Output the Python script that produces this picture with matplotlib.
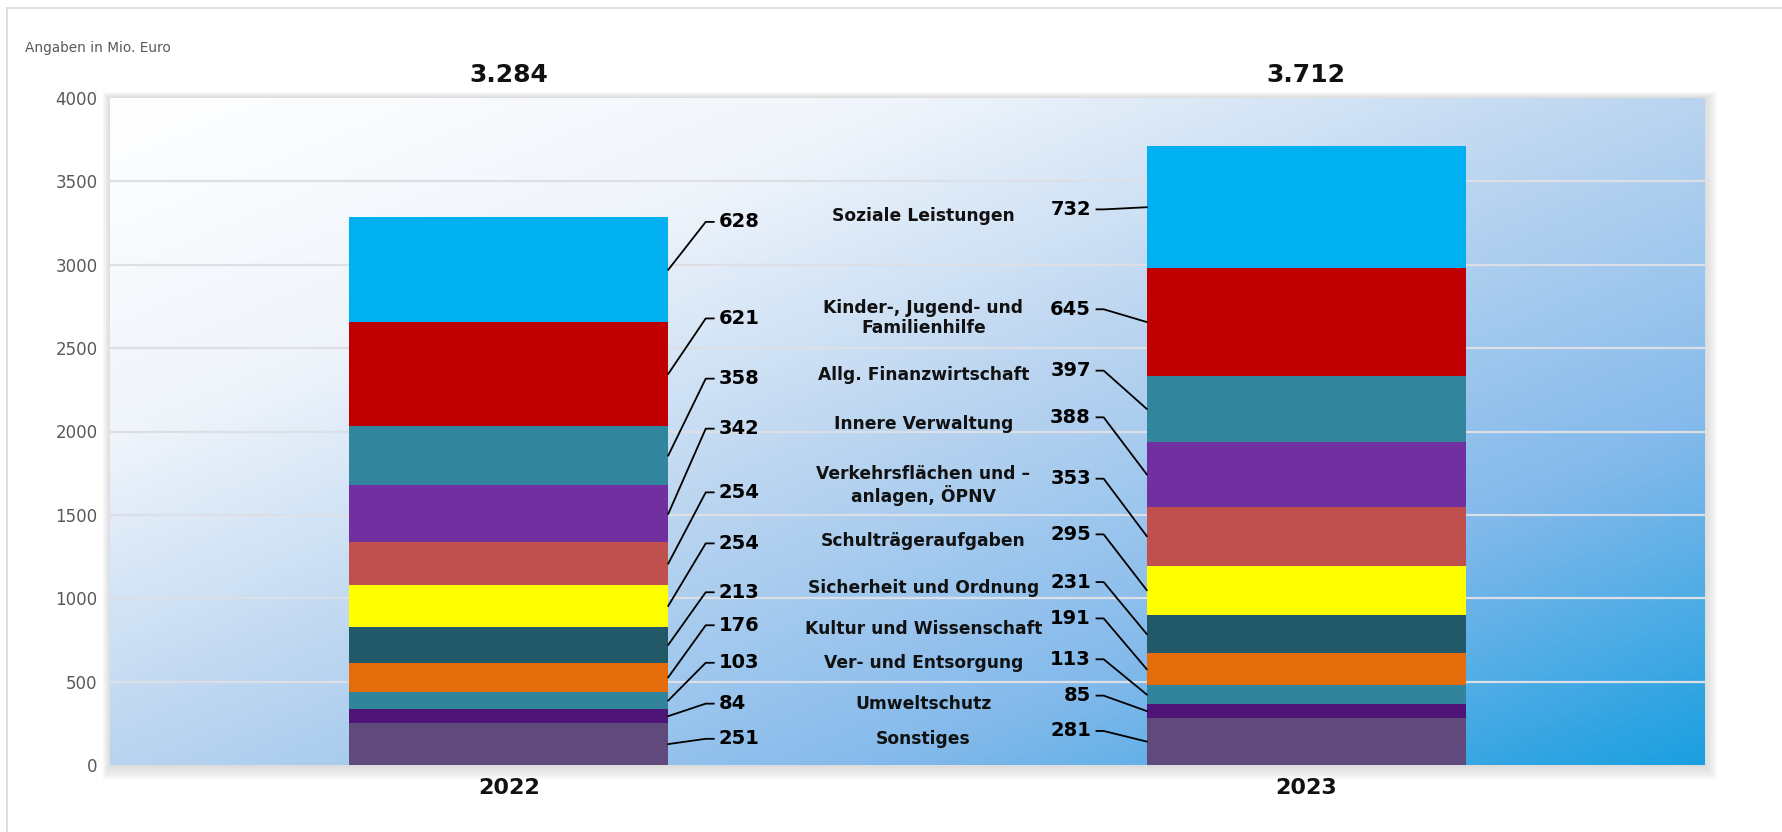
import numpy as np
import matplotlib
matplotlib.use("Agg")
import matplotlib.pyplot as plt
from matplotlib.patches import FancyBboxPatch
from matplotlib.lines import Line2D

# ============================================================
# DATA
# ============================================================

years = ["2022", "2023"]
totals = [3284, 3712]

categories = [
    "Sonstiges",
    "Umweltschutz",
    "Ver- und Entsorgung",
    "Kultur und Wissenschaft",
    "Sicherheit und Ordnung",
    "Schulträgeraufgaben",
    "Verkehrsflächen und –\nanlagen, ÖPNV",
    "Innere Verwaltung",
    "Allg. Finanzwirtschaft",
    "Kinder-, Jugend- und\nFamilienhilfe",
    "Soziale Leistungen",
]
values_2022 = [251, 84, 103, 176, 213, 254, 254, 342, 358, 621, 628]
values_2023 = [281, 85, 113, 191, 231, 295, 353, 388, 397, 645, 732]

colors = ["#604A7B", "#4E1577", "#31849B", "#E46C0A", "#215968", "#FFFF00",
          "#C0504D", "#7030A0", "#31859C", "#C00000", "#00B0F0"]

# label placement (data y) - category names in the middle, numbers next to bars
name_y = [157, 368, 613, 818, 1063, 1342, 1676, 2044, 2337, 2678, 3291]
num_y_2022 = [157, 368, 613, 838, 1036, 1329, 1635, 2017, 2317, 2678, 3257]
num_y_2023 = [204, 416, 634, 879, 1097, 1383, 1717, 2085, 2365, 2733, 3332]

# ============================================================
# FIGURE
# ============================================================

W, H = 1782, 832
fig = plt.figure(figsize=(W / 100, H / 100), dpi=100)
fig.patch.set_facecolor("white")

ax_l, ax_r, ax_t, ax_b = 110, 1705, 98, 765
pos = [ax_l / W, 1 - ax_b / H, (ax_r - ax_l) / W, (ax_b - ax_t) / H]

# soft drop shadow behind the panel
for k in range(10, 0, -1):
    pad = k * 1.5
    sh = FancyBboxPatch(
        ((ax_l - pad * 0.5) / W, 1 - (ax_b + pad) / H),
        (ax_r - ax_l + pad * 1.3) / W, (ax_b - ax_t + pad * 1.4) / H,
        boxstyle="square,pad=0", transform=fig.transFigure,
        facecolor="#909090", edgecolor="none", alpha=0.03, zorder=-5)
    fig.add_artist(sh)

# thin outer frame (top and left edges)
fig.add_artist(Line2D([7 / W, 7 / W], [0, 1 - 8 / H], transform=fig.transFigure,
                      color="#D9D9D9", lw=1.2))
fig.add_artist(Line2D([7 / W, 1], [1 - 8 / H, 1 - 8 / H], transform=fig.transFigure,
                      color="#D9D9D9", lw=1.2))

ax = fig.add_axes(pos)
x = np.arange(len(years))

# diagonal gradient background (white top-left -> blue bottom-right)
gx, gy = np.meshgrid(np.linspace(0, 1, 400), np.linspace(0, 1, 200))
t = (gx + gy) / 2
stops = [0, 0.25, 0.5, 0.75, 1.0]
rgb_stops = np.array([[255, 255, 255], [240, 245, 251], [185, 212, 240],
                      [130, 185, 235], [26, 159, 224]]) / 255
grad = np.dstack([np.interp(t, stops, rgb_stops[:, c]) for c in range(3)])
ax.imshow(grad, extent=[-0.5, 1.5, 0, 4000], origin="upper", aspect="auto", zorder=0)
ax.set_xlim(-0.5, 1.5)
ax.set_ylim(0, 4000)

# grid
for yv in np.arange(500, 4000, 500):
    ax.axhline(yv, color="#DCE0E6", lw=1.6, zorder=1)

# stacked bars
bar_w = 0.4
for vals, xi in [(values_2022, 0), (values_2023, 1)]:
    bottom = 0
    for v, col in zip(vals, colors):
        ax.bar(xi, v, bottom=bottom, width=bar_w, color=col,
               edgecolor="none", zorder=2)
        bottom += v

# leader lines + numbers for 2022 (right side of bar)
bottom = 0
for v, ny in zip(values_2022, num_y_2022):
    mid = bottom + v / 2
    ax.plot([bar_w / 2, 0.247, 0.257], [mid, ny, ny], color="black", lw=1.3,
            zorder=3, clip_on=False)
    ax.text(0.263, ny, str(v), ha="left", va="center", fontsize=14,
            fontweight="bold", color="black", zorder=4)
    bottom += v

# leader lines + numbers for 2023 (left side of bar)
bottom = 0
for v, ny in zip(values_2023, num_y_2023):
    mid = bottom + v / 2
    ax.plot([1 - bar_w / 2, 0.746, 0.737], [mid, ny, ny], color="black", lw=1.3,
            zorder=3, clip_on=False)
    ax.text(0.73, ny, str(v), ha="right", va="center", fontsize=14,
            fontweight="bold", color="black", zorder=4)
    bottom += v

# category names in the middle
for name, ny in zip(categories, name_y):
    ax.text(0.52, ny, name, ha="center", va="center", fontsize=12.3,
            fontweight="bold", color="#111111", linespacing=1.15, zorder=4)

# totals above bars
for xi, tot in zip(x, totals):
    ax.text(xi, 4135, f"{tot:,}".replace(",", "."), ha="center", va="center",
            fontsize=18, fontweight="bold", color="#111111", clip_on=False)

ax.set_xticks(x)
ax.set_xticklabels(years, fontsize=16, fontweight="bold", color="#111111")
ax.set_yticks(np.arange(0, 4001, 500))
ax.set_yticklabels([str(v) for v in np.arange(0, 4001, 500)], fontsize=12,
                   color="#595959")
ax.tick_params(axis="both", length=0)
ax.tick_params(axis="y", pad=9)
ax.tick_params(axis="x", pad=9)
for s in ax.spines.values():
    s.set_visible(False)

fig.text(25 / W, 1 - 48 / H, "Angaben in Mio. Euro", ha="left", va="center",
         fontsize=9.8, color="#595959")

fig.savefig("out.png", dpi=100)
